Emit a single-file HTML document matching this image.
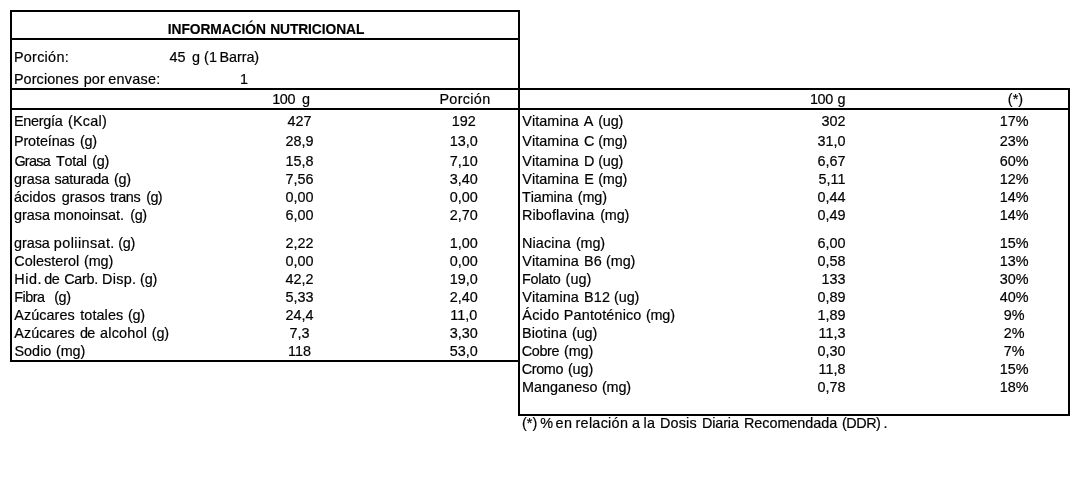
<!DOCTYPE html>
<html><head><meta charset="utf-8"><title>Información Nutricional</title>
<style>
html,body{margin:0;padding:0;background:#fff;}
body{width:1090px;height:478px;position:relative;overflow:hidden;font-family:"Liberation Sans",sans-serif;font-size:14.4px;color:#000;-webkit-font-smoothing:antialiased;-webkit-text-stroke:0.2px #000;}
#txt{position:absolute;left:0;top:0;width:1090px;height:478px;will-change:transform;}
.b{position:absolute;background:#000;}
.t{position:absolute;height:16px;line-height:16px;white-space:nowrap;}
.w{font-kerning:none;}
.c{text-align:center;}
.r{text-align:right;}
.bold{font-weight:bold;font-size:13.8px;-webkit-text-stroke:0.15px #000;}
</style></head><body><div id="txt">
<div class="b" style="left:10px;top:10px;width:510px;height:2px"></div>
<div class="b" style="left:10px;top:38px;width:510px;height:2px"></div>
<div class="b" style="left:10px;top:88px;width:1060px;height:2px"></div>
<div class="b" style="left:10px;top:108px;width:1060px;height:2px"></div>
<div class="b" style="left:10px;top:360px;width:510px;height:2px"></div>
<div class="b" style="left:518px;top:414px;width:552px;height:2px"></div>
<div class="b" style="left:10px;top:10px;width:2px;height:352px"></div>
<div class="b" style="left:518px;top:10px;width:2px;height:406px"></div>
<div class="b" style="left:1068px;top:88px;width:2px;height:328px"></div>
<div class="t w bold" style="left:167.75px;top:22px;letter-spacing:-0.078px">INFORMACIÓN</div>
<div class="t w bold" style="left:270.15px;top:22px;letter-spacing:-0.085px">NUTRICIONAL</div>
<div class="t w" style="left:13.92px;top:49px;letter-spacing:0.281px">Porción:</div>
<div class="t w" style="left:169.57px;top:49px;letter-spacing:-0.082px">45</div>
<div class="t w" style="left:192.00px;top:49px;letter-spacing:0.000px">g</div>
<div class="t w" style="left:203.91px;top:49px;letter-spacing:0.000px">(</div>
<div class="t w" style="left:208.90px;top:49px;letter-spacing:0.000px">1</div>
<div class="t w" style="left:219.52px;top:49px;letter-spacing:-0.067px">Barra)</div>
<div class="t w" style="left:13.92px;top:71px;letter-spacing:0.108px">Porciones</div>
<div class="t w" style="left:83.77px;top:71px;letter-spacing:0.077px">por</div>
<div class="t w" style="left:108.19px;top:71px;letter-spacing:0.282px">envase:</div>
<div class="t w" style="left:240.00px;top:71px;letter-spacing:0.000px">1</div>
<div class="t w" style="left:272.20px;top:91px;letter-spacing:-0.383px">100</div>
<div class="t w" style="left:301.90px;top:91px;letter-spacing:0.000px">g</div>
<div class="t w" style="left:439.42px;top:91px;letter-spacing:0.332px">Porción</div>
<div class="t w" style="left:809.90px;top:91px;letter-spacing:-0.283px">100</div>
<div class="t w" style="left:837.60px;top:91px;letter-spacing:0.000px">g</div>
<div class="t w" style="left:1007.81px;top:91px;letter-spacing:0.046px">(*)</div>
<div class="t w" style="left:13.92px;top:113px;letter-spacing:-0.242px">Energía</div>
<div class="t w" style="left:67.91px;top:113px;letter-spacing:0.277px">(Kcal)</div>
<div class="t c " style="left:239.6px;width:120px;top:113px">427</div>
<div class="t c " style="left:403.8px;width:120px;top:113px">192</div>
<div class="t w" style="left:13.92px;top:133px;letter-spacing:-0.104px">Proteínas</div>
<div class="t w" style="left:80.01px;top:133px;letter-spacing:-0.257px">(g)</div>
<div class="t c " style="left:239.6px;width:120px;top:133px">28,9</div>
<div class="t c " style="left:403.8px;width:120px;top:133px">13,0</div>
<div class="t w" style="left:14.38px;top:153px;letter-spacing:-0.697px">Grasa</div>
<div class="t w" style="left:55.98px;top:153px;letter-spacing:-0.257px">Total</div>
<div class="t w" style="left:92.21px;top:153px;letter-spacing:-0.307px">(g)</div>
<div class="t c " style="left:239.6px;width:120px;top:153px">15,8</div>
<div class="t c " style="left:403.8px;width:120px;top:153px">7,10</div>
<div class="t w" style="left:14.00px;top:171px;letter-spacing:-0.004px">grasa</div>
<div class="t w" style="left:54.40px;top:171px;letter-spacing:-0.191px">saturada</div>
<div class="t w" style="left:114.11px;top:171px;letter-spacing:-0.307px">(g)</div>
<div class="t c " style="left:239.6px;width:120px;top:171px">7,56</div>
<div class="t c " style="left:403.8px;width:120px;top:171px">3,40</div>
<div class="t w" style="left:13.99px;top:189px;letter-spacing:0.041px">ácidos</div>
<div class="t w" style="left:61.70px;top:189px;letter-spacing:0.021px">grasos</div>
<div class="t w" style="left:110.08px;top:189px;letter-spacing:-0.369px">trans</div>
<div class="t w" style="left:146.21px;top:189px;letter-spacing:-0.607px">(g)</div>
<div class="t c " style="left:239.6px;width:120px;top:189px">0,00</div>
<div class="t c " style="left:403.8px;width:120px;top:189px">0,00</div>
<div class="t w" style="left:14.00px;top:207px;letter-spacing:-0.004px">grasa</div>
<div class="t w" style="left:53.84px;top:207px;letter-spacing:-0.030px">monoinsat.</div>
<div class="t w" style="left:130.31px;top:207px;letter-spacing:-0.457px">(g)</div>
<div class="t c " style="left:239.6px;width:120px;top:207px">6,00</div>
<div class="t c " style="left:403.8px;width:120px;top:207px">2,70</div>
<div class="t w" style="left:14.00px;top:235px;letter-spacing:-0.054px">grasa</div>
<div class="t w" style="left:53.87px;top:235px;letter-spacing:0.412px">poliinsat.</div>
<div class="t w" style="left:118.21px;top:235px;letter-spacing:-0.307px">(g)</div>
<div class="t c " style="left:239.6px;width:120px;top:235px">2,22</div>
<div class="t c " style="left:403.8px;width:120px;top:235px">1,00</div>
<div class="t w" style="left:14.37px;top:253px;letter-spacing:0.007px">Colesterol</div>
<div class="t w" style="left:84.11px;top:253px;letter-spacing:-0.136px">(mg)</div>
<div class="t c " style="left:239.6px;width:120px;top:253px">0,00</div>
<div class="t c " style="left:403.8px;width:120px;top:253px">0,00</div>
<div class="t w" style="left:14.22px;top:271px;letter-spacing:0.563px">Hid.</div>
<div class="t w" style="left:44.30px;top:271px;letter-spacing:-0.573px">de</div>
<div class="t w" style="left:64.17px;top:271px;letter-spacing:-0.292px">Carb.</div>
<div class="t w" style="left:102.02px;top:271px;letter-spacing:0.322px">Disp.</div>
<div class="t w" style="left:140.11px;top:271px;letter-spacing:-0.257px">(g)</div>
<div class="t c " style="left:239.6px;width:120px;top:271px">42,2</div>
<div class="t c " style="left:403.8px;width:120px;top:271px">19,0</div>
<div class="t w" style="left:14.22px;top:289px;letter-spacing:-0.507px">Fibra</div>
<div class="t w" style="left:54.21px;top:289px;letter-spacing:-0.407px">(g)</div>
<div class="t c " style="left:239.6px;width:120px;top:289px">5,33</div>
<div class="t c " style="left:403.8px;width:120px;top:289px">2,40</div>
<div class="t w" style="left:14.27px;top:307px;letter-spacing:0.060px">Azúcares</div>
<div class="t w" style="left:80.28px;top:307px;letter-spacing:0.085px">totales</div>
<div class="t w" style="left:128.01px;top:307px;letter-spacing:-0.257px">(g)</div>
<div class="t c " style="left:239.6px;width:120px;top:307px">24,4</div>
<div class="t c " style="left:403.8px;width:120px;top:307px">11,0</div>
<div class="t w" style="left:14.27px;top:325px;letter-spacing:0.060px">Azúcares</div>
<div class="t w" style="left:79.90px;top:325px;letter-spacing:-0.573px">de</div>
<div class="t w" style="left:99.99px;top:325px;letter-spacing:0.240px">alcohol</div>
<div class="t w" style="left:151.81px;top:325px;letter-spacing:-0.207px">(g)</div>
<div class="t c " style="left:239.6px;width:120px;top:325px">7,3</div>
<div class="t c " style="left:403.8px;width:120px;top:325px">3,30</div>
<div class="t w" style="left:14.45px;top:343px;letter-spacing:0.032px">Sodio</div>
<div class="t w" style="left:56.11px;top:343px;letter-spacing:-0.136px">(mg)</div>
<div class="t c " style="left:239.6px;width:120px;top:343px">118</div>
<div class="t c " style="left:403.8px;width:120px;top:343px">53,0</div>
<div class="t w" style="left:522.24px;top:113px;letter-spacing:0.077px">Vitamina</div>
<div class="t w" style="left:583.87px;top:113px;letter-spacing:0.000px">A</div>
<div class="t w" style="left:598.21px;top:113px;letter-spacing:-0.174px">(ug)</div>
<div class="t r " style="left:725.5px;width:120px;top:113px">302</div>
<div class="t c " style="left:954.2px;width:120px;top:113px">17%</div>
<div class="t w" style="left:522.24px;top:133px;letter-spacing:0.077px">Vitamina</div>
<div class="t w" style="left:583.97px;top:133px;letter-spacing:0.000px">C</div>
<div class="t w" style="left:598.21px;top:133px;letter-spacing:-0.170px">(mg)</div>
<div class="t r " style="left:725.5px;width:120px;top:133px">31,0</div>
<div class="t c " style="left:954.2px;width:120px;top:133px">23%</div>
<div class="t w" style="left:522.24px;top:153px;letter-spacing:0.077px">Vitamina</div>
<div class="t w" style="left:584.02px;top:153px;letter-spacing:0.000px">D</div>
<div class="t w" style="left:598.21px;top:153px;letter-spacing:-0.174px">(ug)</div>
<div class="t r " style="left:725.5px;width:120px;top:153px">6,67</div>
<div class="t c " style="left:954.2px;width:120px;top:153px">60%</div>
<div class="t w" style="left:522.24px;top:171px;letter-spacing:0.077px">Vitamina</div>
<div class="t w" style="left:584.32px;top:171px;letter-spacing:0.000px">E</div>
<div class="t w" style="left:598.21px;top:171px;letter-spacing:-0.170px">(mg)</div>
<div class="t r " style="left:725.5px;width:120px;top:171px">5,11</div>
<div class="t c " style="left:954.2px;width:120px;top:171px">12%</div>
<div class="t w" style="left:521.98px;top:189px;letter-spacing:-0.082px">Tiamina</div>
<div class="t w" style="left:577.81px;top:189px;letter-spacing:-0.103px">(mg)</div>
<div class="t r " style="left:725.5px;width:120px;top:189px">0,44</div>
<div class="t c " style="left:954.2px;width:120px;top:189px">14%</div>
<div class="t w" style="left:521.92px;top:207px;letter-spacing:0.114px">Riboflavina</div>
<div class="t w" style="left:600.21px;top:207px;letter-spacing:-0.170px">(mg)</div>
<div class="t r " style="left:725.5px;width:120px;top:207px">0,49</div>
<div class="t c " style="left:954.2px;width:120px;top:207px">14%</div>
<div class="t w" style="left:521.92px;top:235px;letter-spacing:0.160px">Niacina</div>
<div class="t w" style="left:575.91px;top:235px;letter-spacing:-0.136px">(mg)</div>
<div class="t r " style="left:725.5px;width:120px;top:235px">6,00</div>
<div class="t c " style="left:954.2px;width:120px;top:235px">15%</div>
<div class="t w" style="left:522.24px;top:253px;letter-spacing:0.077px">Vitamina</div>
<div class="t w" style="left:584.02px;top:253px;letter-spacing:0.201px">B6</div>
<div class="t w" style="left:606.11px;top:253px;letter-spacing:-0.103px">(mg)</div>
<div class="t r " style="left:725.5px;width:120px;top:253px">0,58</div>
<div class="t c " style="left:954.2px;width:120px;top:253px">13%</div>
<div class="t w" style="left:521.92px;top:271px;letter-spacing:-0.207px">Folato</div>
<div class="t w" style="left:565.61px;top:271px;letter-spacing:-0.007px">(ug)</div>
<div class="t r " style="left:725.5px;width:120px;top:271px">133</div>
<div class="t c " style="left:954.2px;width:120px;top:271px">30%</div>
<div class="t w" style="left:522.24px;top:289px;letter-spacing:0.077px">Vitamina</div>
<div class="t w" style="left:584.02px;top:289px;letter-spacing:0.142px">B12</div>
<div class="t w" style="left:614.11px;top:289px;letter-spacing:-0.107px">(ug)</div>
<div class="t r " style="left:725.5px;width:120px;top:289px">0,89</div>
<div class="t c " style="left:954.2px;width:120px;top:289px">40%</div>
<div class="t w" style="left:522.27px;top:307px;letter-spacing:0.278px">Ácido</div>
<div class="t w" style="left:563.82px;top:307px;letter-spacing:0.153px">Pantoténico</div>
<div class="t w" style="left:645.91px;top:307px;letter-spacing:-0.170px">(mg)</div>
<div class="t r " style="left:725.5px;width:120px;top:307px">1,89</div>
<div class="t c " style="left:954.2px;width:120px;top:307px">9%</div>
<div class="t w" style="left:521.92px;top:325px;letter-spacing:0.192px">Biotina</div>
<div class="t w" style="left:572.01px;top:325px;letter-spacing:-0.141px">(ug)</div>
<div class="t r " style="left:725.5px;width:120px;top:325px">11,3</div>
<div class="t c " style="left:954.2px;width:120px;top:325px">2%</div>
<div class="t w" style="left:521.87px;top:343px;letter-spacing:-0.412px">Cobre</div>
<div class="t w" style="left:564.11px;top:343px;letter-spacing:-0.136px">(mg)</div>
<div class="t r " style="left:725.5px;width:120px;top:343px">0,30</div>
<div class="t c " style="left:954.2px;width:120px;top:343px">7%</div>
<div class="t w" style="left:521.87px;top:361px;letter-spacing:-0.393px">Cromo</div>
<div class="t w" style="left:567.91px;top:361px;letter-spacing:-0.074px">(ug)</div>
<div class="t r " style="left:725.5px;width:120px;top:361px">11,8</div>
<div class="t c " style="left:954.2px;width:120px;top:361px">15%</div>
<div class="t w" style="left:521.92px;top:379px;letter-spacing:0.041px">Manganeso</div>
<div class="t w" style="left:602.01px;top:379px;letter-spacing:-0.170px">(mg)</div>
<div class="t r " style="left:725.5px;width:120px;top:379px">0,78</div>
<div class="t c " style="left:954.2px;width:120px;top:379px">18%</div>
<div class="t w" style="left:521.96px;top:415px;letter-spacing:0.071px">(*)</div>
<div class="t w" style="left:540.19px;top:415px;letter-spacing:0.000px">%</div>
<div class="t w" style="left:555.59px;top:415px;letter-spacing:0.330px">en</div>
<div class="t w" style="left:575.54px;top:415px;letter-spacing:0.280px">relación</div>
<div class="t w" style="left:631.94px;top:415px;letter-spacing:0.000px">a</div>
<div class="t w" style="left:643.43px;top:415px;letter-spacing:0.262px">la</div>
<div class="t w" style="left:659.92px;top:415px;letter-spacing:0.174px">Dosis</div>
<div class="t w" style="left:701.92px;top:415px;letter-spacing:-0.106px">Diaria</div>
<div class="t w" style="left:743.92px;top:415px;letter-spacing:-0.028px">Recomendada</div>
<div class="t w" style="left:841.91px;top:415px;letter-spacing:-0.451px">(DDR)</div>
<div class="t w" style="left:883.39px;top:415px;letter-spacing:0.000px">.</div>
</div></body></html>
